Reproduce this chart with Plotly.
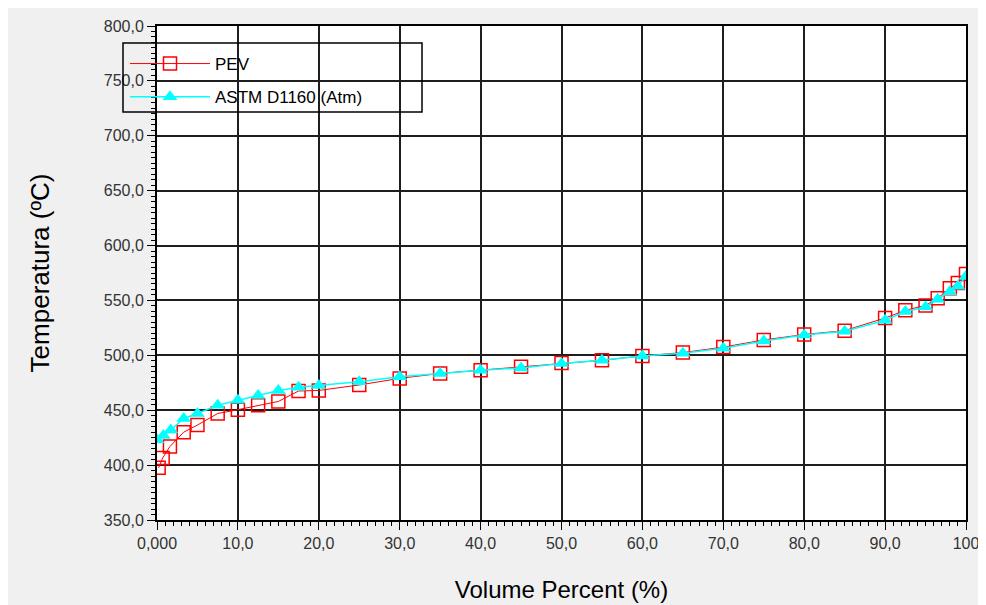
import plotly.graph_objects as go

# ---- data ----
pev_x = [0.2, 0.7, 1.6, 3.3, 5.0, 7.5, 10.0, 12.5, 15.0, 17.5, 20.0, 25.0, 30.0, 35.0, 40.0,
         45.0, 50.0, 55.0, 60.0, 65.0, 70.0, 75.0, 80.0, 85.0, 90.0, 92.5, 95.0, 96.5, 98.0, 99.0, 100.0]
pev_t = [397.5, 406.5, 417.0, 430.0, 436.5, 447.0, 450.5, 454.5, 458.0, 467.5, 468.0, 473.0, 479.0, 483.5, 486.5,
         489.5, 493.0, 495.5, 499.5, 502.5, 507.5, 514.0, 519.0, 522.5, 534.0, 541.0, 545.5, 552.0, 561.0, 566.0, 574.0]

astm_x = [0.0, 0.8, 1.7, 3.3, 5.0, 7.5, 10.0, 12.5, 15.0, 17.5, 20.0, 25.0, 30.0, 35.0, 40.0,
          45.0, 50.0, 55.0, 60.0, 65.0, 70.0, 75.0, 80.0, 85.0, 90.0, 92.5, 95.0, 96.5, 98.0, 99.0, 100.0]
astm_t = [423.0, 427.0, 432.0, 442.5, 447.0, 454.5, 459.0, 463.5, 468.0, 471.0, 472.5, 476.0, 480.5, 483.5, 486.5,
          488.5, 492.5, 495.5, 499.5, 502.0, 506.5, 513.0, 518.5, 522.0, 532.0, 540.0, 544.0, 551.0, 558.0, 563.0, 572.0]

x_tickvals = [0, 10, 20, 30, 40, 50, 60, 70, 80, 90, 100]
x_ticktext = ["0,000", "10,0", "20,0", "30,0", "40,0", "50,0", "60,0", "70,0", "80,0", "90,0", "100"]
y_tickvals = [350, 400, 450, 500, 550, 600, 650, 700, 750, 800]
y_ticktext = ["350,0", "400,0", "450,0", "500,0", "550,0", "600,0", "650,0", "700,0", "750,0", "800,0"]

FONT = "Liberation Sans, Arial, sans-serif"

fig = go.Figure()
fig.add_trace(go.Scatter(
    x=pev_x, y=pev_t, name="PEV", mode="lines+markers", legendgroup="a",
    line=dict(color="#ff0000", width=1),
    marker=dict(symbol="square-open", size=13, color="#ff0000", line=dict(width=1.5, color="#ff0000")),
))
fig.add_trace(go.Scatter(
    x=astm_x, y=astm_t, name="ASTM D1160 (Atm)", mode="lines+markers", legendgroup="b",
    line=dict(color="#00ffff", width=1.5),
    marker=dict(symbol="triangle-up", size=13, color="#00ffff", line=dict(width=0)),
))

# page body has an 8px margin, so figure coordinates = screen coordinates - 8
OFF = 8
W, H = 986 - OFF, 605 - OFF
L, T = 157 - OFF, 26 - OFF
pw, ph = 809, 494
R, B = W - L - pw, H - T - ph

def px_x(p):
    return (p - OFF - L) / pw

def px_y(p):
    return (T + ph - (p - OFF)) / ph

axis_common = dict(
    showline=True, linecolor="#000000", linewidth=2, mirror=True,
    showgrid=True, gridcolor="#1e1e1e", gridwidth=2,
    ticks="outside", ticklen=8, tickcolor="#000000", tickwidth=1,
    tickfont=dict(family=FONT, size=16, color="#333333"),
    zeroline=False, tickmode="array",
)

fig.update_xaxes(
    range=[0, 100], tickvals=x_tickvals, ticktext=x_ticktext,
    minor=dict(ticks="outside", ticklen=4, tick0=0, dtick=1, tickcolor="#000000", showgrid=False),
    title=dict(text="Volume Percent (%)", font=dict(family=FONT, size=24, color="#000000"), standoff=30),
    **axis_common,
)
fig.update_yaxes(
    range=[350, 800], tickvals=y_tickvals, ticktext=y_ticktext,
    minor=dict(ticks="outside", ticklen=4, tick0=350, dtick=5, tickcolor="#000000", showgrid=False),
    title=dict(text="Temperatura (ºC)", font=dict(family=FONT, size=26, color="#000000"), standoff=47),
    **axis_common,
)

fig.update_layout(
    width=W, height=H,
    margin=dict(l=L, r=R, t=T, b=B, autoexpand=False),
    paper_bgcolor="#f0f0f0", plot_bgcolor="#ffffff",
    showlegend=True,
    legend=dict(
        x=px_x(125), y=px_y(46), xanchor="left", yanchor="top",
        bgcolor="rgba(0,0,0,0)", borderwidth=0,
        font=dict(family=FONT, size=17, color="#000000"),
        itemwidth=80, traceorder="grouped", tracegroupgap=8,
    ),
    shapes=[
        dict(type="rect", xref="paper", yref="paper",
             x0=px_x(123), x1=px_x(422), y0=px_y(112), y1=px_y(43),
             line=dict(color="#000000", width=1.5), fillcolor="rgba(0,0,0,0)", layer="above"),
    ],
)

fig.write_html("out.html")
